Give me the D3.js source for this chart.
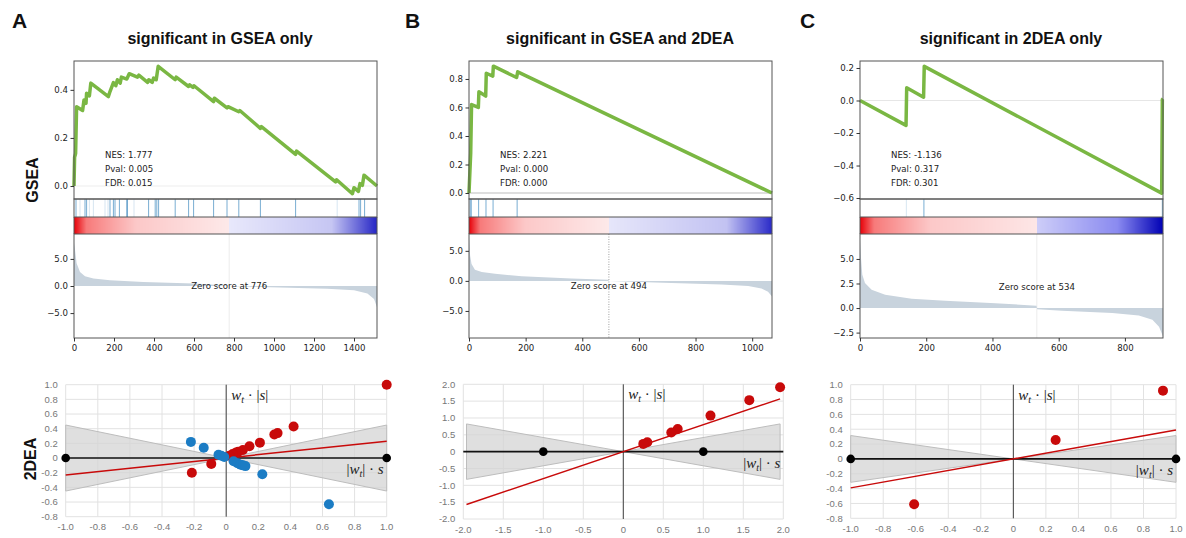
<!DOCTYPE html>
<html>
<head>
<meta charset="utf-8">
<script src="https://cdn.jsdelivr.net/npm/d3@7"></script>
<style>
  body { margin: 0; background: #fff; }
  svg { display: block; }
</style>
</head>
<body>
<script>
// ---- panel headers ----
const letters = ["A", "B", "C"];
const titles = ["significant in GSEA only", "significant in GSEA and 2DEA", "significant in 2DEA only"];
const stats = [
  ["NES: 1.777", "Pval: 0.005", "FDR: 0.015"],
  ["NES: 2.221", "Pval: 0.000", "FDR: 0.000"],
  ["NES: -1.136", "Pval: 0.317", "FDR: 0.301"]
];
const geneCounts = [1515, 1070, 915];
const zeroScores = [776, 494, 534];

// ---- GSEA axes ----
const esDomains = [[-0.054, 0.52], [-0.042, 0.926], [-0.606, 0.243]];
const esTicks = [[0, 0.2, 0.4], [0, 0.2, 0.4, 0.6, 0.8], [-0.6, -0.4, -0.2, 0, 0.2]];
const rankDomains = [[-9.6, 9.6], [-9.5, 7.8], [-3.05, 7.54]];
const rankTicks = [[-5, 0, 5], [-5, 0, 5], [-2.5, 0, 2.5, 5]];
const geneTicks = [
  [0, 200, 400, 600, 800, 1000, 1200, 1400],
  [0, 200, 400, 600, 800, 1000],
  [0, 200, 400, 600, 800]
];
const zeroLabelY = [0, -0.8, 2.1];

// ---- running enrichment score (rank, ES) ----
const esRankA = [0, 3, 8, 13, 43, 50, 60, 63, 77, 84, 172, 180, 197, 209, 217, 231, 237, 264, 276, 317, 324, 368, 374, 391, 398, 411, 421,
  506, 511, 573, 578, 595, 600, 698, 702, 765, 770, 824, 829, 932, 937, 1108, 1113, 1308, 1313, 1392, 1400, 1422, 1430, 1442, 1450, 1515];
const esValA = [0, 0.12, 0.135, 0.33, 0.314, 0.358, 0.344, 0.386, 0.375, 0.428, 0.372, 0.393, 0.43, 0.417, 0.442, 0.428, 0.453, 0.445, 0.467, 0.453, 0.461, 0.431, 0.442, 0.431, 0.449, 0.442, 0.498,
  0.442, 0.453, 0.414, 0.421, 0.41, 0.417, 0.351, 0.365, 0.325, 0.33, 0.309, 0.314, 0.24, 0.247, 0.132, 0.145, 0.017, 0.026, -0.032, -0.007, -0.022, 0.01, 0.003, 0.045, 0];
const esRankB = [0, 6, 9, 33, 35, 59, 61, 84, 86, 168, 172, 1070];
const esValB = [0, 0.28, 0.62, 0.60, 0.71, 0.68, 0.84, 0.82, 0.89, 0.81, 0.85, 0.0];
const esRankC = [0, 139, 141, 192, 194, 911, 913, 915];
const esValC = [0, -0.153, 0.078, 0.02, 0.21, -0.57, 0.006, 0.01];

// ---- hit positions (rank) ----
const hitsA = [10, 55, 63, 180, 197, 205, 227, 264, 267, 373, 406, 414, 423, 506, 573, 598, 698, 765, 824, 932, 1108, 1425, 1433, 1453];
const faintHitsA = [30, 77, 97, 155, 170, 300, 1316];
const hitsB = [4, 8, 34, 60, 85, 170];
const faintHitsB = [];
const hitsC = [193, 913];
const faintHitsC = [140];

// ---- ranked list metric (rank, score) ----
const rankPosA = [0, 5, 13, 30, 55, 97, 180, 347, 598, 773, 776, 932, 1266, 1400, 1467, 1500, 1515];
const rankValA = [8.0, 6.7, 4.2, 2.6, 1.8, 1.4, 1.06, 0.75, 0.44, 0.1, 0, -0.2, -0.5, -0.8, -1.4, -2.4, -3.9];
const rankPosB = [0, 4, 9, 21, 45, 92, 186, 362, 492, 494, 656, 892, 986, 1033, 1056, 1070];
const rankValB = [7.5, 4.2, 2.8, 1.85, 1.47, 1.2, 0.76, 0.38, 0.2, 0, -0.27, -0.6, -0.87, -1.25, -1.8, -2.6];
const rankPosC = [0, 3, 7, 15, 35, 76, 156, 257, 409, 520, 533, 535, 610, 762, 842, 883, 903, 915];
const rankValC = [7.0, 5.1, 3.4, 2.55, 1.86, 1.36, 0.95, 0.75, 0.5, 0.27, 0.24, -0.12, -0.27, -0.5, -0.75, -1.2, -1.9, -2.9];

// ---- 2DEA scatter ----
const deaXDomains = [[-1, 1], [-2, 2], [-1, 1]];
const deaYDomains = [[-0.8, 1], [-2, 2], [-0.8, 1]];
const deaXTicks = [
  [-1, -0.8, -0.6, -0.4, -0.2, 0, 0.2, 0.4, 0.6, 0.8, 1],
  [-2, -1.5, -1, -0.5, 0, 0.5, 1, 1.5, 2],
  [-1, -0.8, -0.6, -0.4, -0.2, 0, 0.2, 0.4, 0.6, 0.8, 1]
];
const deaYTicks = [
  [-0.8, -0.6, -0.4, -0.2, 0, 0.2, 0.4, 0.6, 0.8, 1],
  [-2, -1.5, -1, -0.5, 0, 0.5, 1, 1.5, 2],
  [-0.8, -0.6, -0.4, -0.2, 0, 0.2, 0.4, 0.6, 0.8, 1]
];
const redA = [[1.0, 1.0], [0.42, 0.43], [0.32, 0.34], [0.30, 0.32], [0.21, 0.21], [0.145, 0.16], [0.104, 0.11],
  [0.075, 0.085], [0.062, 0.077], [0.04, 0.054], [0.02, 0.03], [-0.093, -0.08], [-0.214, -0.20]];
const blueA = [[-0.22, 0.22], [-0.14, 0.14], [-0.048, 0.045], [-0.03, 0.03], [-0.012, 0.014], [0.046, -0.045],
  [0.07, -0.07], [0.09, -0.09], [0.105, -0.1], [0.12, -0.11], [0.225, -0.22], [0.64, -0.63]];
const redB = [[1.96, 1.91], [1.575, 1.53], [1.09, 1.07], [0.68, 0.67], [0.60, 0.57], [0.30, 0.28], [0.25, 0.23]];
const blueB = [];
const redC = [[0.92, 0.92], [0.26, 0.255], [-0.61, -0.61]];
const blueC = [];
const anchors = [[-1, 0], [1, 0]];
const bandExtent = [1.0, 1.96, 1.0];
const bandSlope = [0.45, 0.42, 0.315];
const fitSlope = [0.23, 0.80, 0.39];

// ---- layout ----
const W = 1186, H = 538;
const gsLeft = [74, 469, 860], gsWidth = 303;
const esTop = 61, esBottom = 199, hitBottom = 217, barBottom = 234, rankBottom = 338;
const deaXRange = [[65.7, 386.7], [463.3, 783.3], [850.7, 1176]];
const deaYRange = [[516.7, 384.7], [519, 384.3], [518.3, 384.7]];
const letterX = [12, 405, 800];
const titleX = [220, 620, 1011];
const zeroLineColor = ["#ededed", "#bdbdbd", "#e6e6e6"];
const barColors = [
  ["#e60008", "#f77a7a", "#fcc8c8", "#fde9e9", "#e8e8fb", "#c6c6f3", "#2626c6"],
  ["#e60008", "#f77a7a", "#fcc8c8", "#fde9e9", "#e6e6fa", "#c2c2f2", "#2a2ac8"],
  ["#e60008", "#f77a7a", "#fcc8c8", "#fde6e6", "#cdcdf8", "#8a8af0", "#0000b4"]
];

const svg = d3.select("body").append("svg")
  .attr("width", W).attr("height", H)
  .style("font-family", "Liberation Sans, Arial, sans-serif");

// headers
letters.forEach((l, i) => {
  svg.append("text").attr("x", letterX[i]).attr("y", 28)
    .attr("font-size", 21).attr("font-weight", "bold").attr("fill", "#111").text(l);
  svg.append("text").attr("x", titleX[i]).attr("y", 44).attr("text-anchor", "middle")
    .attr("font-size", 16).attr("font-weight", "bold").attr("fill", "#111").text(titles[i]);
});
svg.append("text").attr("transform", "translate(38,180) rotate(-90)").attr("text-anchor", "middle")
  .attr("font-size", 16).attr("font-weight", "bold").attr("fill", "#111").text("GSEA");
svg.append("text").attr("transform", "translate(36,459) rotate(-90)").attr("text-anchor", "middle")
  .attr("font-size", 16).attr("font-weight", "bold").attr("fill", "#111").text("2DEA");

function drawGsea(i, es, hits, faint, ranked) {
  const x0 = gsLeft[i], x1 = x0 + gsWidth;
  const N = geneCounts[i], z = zeroScores[i];
  const x = d3.scaleLinear().domain([0, N]).range([x0, x1]);
  const yEs = d3.scaleLinear().domain(esDomains[i]).range([esBottom, esTop]);
  const yRank = d3.scaleLinear().domain(rankDomains[i]).range([rankBottom, barBottom]);
  const g = svg.append("g").style("font-family", "DejaVu Sans, sans-serif");

  // enrichment score
  g.append("line").attr("x1", x0).attr("x2", x1).attr("y1", yEs(0)).attr("y2", yEs(0))
    .attr("stroke", zeroLineColor[i]).attr("stroke-width", 1);
  g.append("path").datum(es)
    .attr("fill", "none").attr("stroke", "#7ab743").attr("stroke-width", 3.5)
    .attr("stroke-linejoin", "round")
    .attr("d", d3.line().x(d => x(d[0])).y(d => yEs(d[1])));
  stats[i].forEach((s, k) => {
    g.append("text").attr("x", x0 + 31).attr("y", 158 + k * 14)
      .attr("font-size", 8.6).attr("fill", "#222").text(s);
  });

  // hits strip
  g.selectAll(".faint").data(faint).enter().append("line")
    .attr("x1", d => x(d)).attr("x2", d => x(d)).attr("y1", esBottom).attr("y2", hitBottom)
    .attr("stroke", "#1f77b4").attr("stroke-opacity", 0.18);
  g.selectAll(".hit").data(hits).enter().append("line")
    .attr("x1", d => x(d)).attr("x2", d => x(d)).attr("y1", esBottom).attr("y2", hitBottom)
    .attr("stroke", "#1f77b4").attr("stroke-opacity", 0.6);

  // colour bar by rank
  const c = barColors[i];
  const cs = d3.scaleLinear()
    .domain([0, z * 0.08, z * 0.4, z - 0.5, z + 0.5, N * 0.85, N])
    .range(c).interpolate(d3.interpolateRgb).clamp(true);
  const cols = d3.range(0, gsWidth);
  g.selectAll(".bar").data(cols).enter().append("rect")
    .attr("x", d => x0 + d).attr("y", hitBottom).attr("width", 1.05).attr("height", barBottom - hitBottom)
    .attr("fill", d => cs(x.invert(x0 + d + 0.5)));

  // ranked metric
  if (i === 1) {
    g.append("line").attr("x1", x(z)).attr("x2", x(z)).attr("y1", barBottom).attr("y2", rankBottom)
      .attr("stroke", "#888").attr("stroke-dasharray", "1,1.5").attr("stroke-width", 0.8);
  } else {
    g.append("line").attr("x1", x(z)).attr("x2", x(z)).attr("y1", barBottom).attr("y2", rankBottom)
      .attr("stroke", "#ececec").attr("stroke-width", 1);
  }
  g.append("path").datum(ranked).attr("fill", "#c8d3dd")
    .attr("d", d3.area().x(d => x(d[0])).y0(yRank(0)).y1(d => yRank(d[1])));
  g.append("text").attr("x", x(z)).attr("y", yRank(zeroLabelY[i])).attr("dy", "0.35em")
    .attr("text-anchor", "middle").attr("font-size", 8.6).attr("fill", "#222")
    .text("Zero score at " + z);

  // frames
  [[esTop, esBottom], [esBottom, hitBottom], [barBottom, rankBottom]].forEach(([t, b]) => {
    g.append("rect").attr("x", x0).attr("y", t).attr("width", gsWidth).attr("height", b - t)
      .attr("fill", "none").attr("stroke", "#555").attr("stroke-width", 1);
  });
  g.append("line").attr("x1", x0).attr("x2", x0).attr("y1", hitBottom).attr("y2", barBottom)
    .attr("stroke", "#555");
  g.append("line").attr("x1", x1).attr("x2", x1).attr("y1", hitBottom).attr("y2", barBottom)
    .attr("stroke", "#555");

  // axes
  const fmt = d3.format(".1f");
  const ax1 = g.append("g").attr("transform", `translate(${x0},0)`)
    .call(d3.axisLeft(yEs).tickValues(esTicks[i]).tickSize(3.5).tickPadding(2.5).tickFormat(fmt));
  const ax2 = g.append("g").attr("transform", `translate(${x0},0)`)
    .call(d3.axisLeft(yRank).tickValues(rankTicks[i]).tickSize(3.5).tickPadding(2.5).tickFormat(fmt));
  const ax3 = g.append("g").attr("transform", `translate(0,${rankBottom})`)
    .call(d3.axisBottom(x).tickValues(geneTicks[i]).tickSize(3.5).tickPadding(3).tickFormat(d3.format("d")));
  [ax1, ax2, ax3].forEach(a => {
    a.select(".domain").remove();
    a.selectAll("text").attr("font-size", 8.6).attr("fill", "#222").attr("font-family", "DejaVu Sans, sans-serif");
    a.selectAll("line").attr("stroke", "#333");
  });
}

function drawDea(i, reds, blues) {
  const x = d3.scaleLinear().domain(deaXDomains[i]).range(deaXRange[i]);
  const y = d3.scaleLinear().domain(deaYDomains[i]).range(deaYRange[i]);
  const [xa, xb] = deaXDomains[i], [ya, yb] = deaYDomains[i];
  const g = svg.append("g");

  // grid
  g.selectAll(".vg").data(deaXTicks[i]).enter().append("line")
    .attr("x1", d => x(d)).attr("x2", d => x(d)).attr("y1", y(ya)).attr("y2", y(yb))
    .attr("stroke", "#e2e2e2");
  g.selectAll(".hg").data(deaYTicks[i]).enter().append("line")
    .attr("x1", x(xa)).attr("x2", x(xb)).attr("y1", d => y(d)).attr("y2", d => y(d))
    .attr("stroke", "#e2e2e2");
  const tf = d => d === 0 ? "0" : d.toFixed(1);
  g.selectAll(".yl").data(deaYTicks[i]).enter().append("text")
    .attr("x", x(xa) - 8).attr("y", d => y(d)).attr("dy", "0.35em").attr("text-anchor", "end")
    .attr("font-size", 9.5).attr("fill", "#777").text(tf);
  g.selectAll(".xl").data(deaXTicks[i]).enter().append("text")
    .attr("x", d => x(d)).attr("y", y(ya) + 13.5).attr("text-anchor", "middle")
    .attr("font-size", 9.5).attr("fill", "#777").text(tf);

  // null band
  const m = bandExtent[i], s = bandSlope[i];
  g.append("path").datum([-m, 0, m])
    .attr("fill", "#d4d4d4").attr("fill-opacity", 0.75).attr("stroke", "#bdbdbd").attr("stroke-width", 1)
    .attr("d", d3.area().x(d => x(d)).y0(d => y(-s * Math.abs(d))).y1(d => y(s * Math.abs(d))));

  // axes
  g.append("line").attr("x1", x(0)).attr("x2", x(0)).attr("y1", y(ya)).attr("y2", y(yb))
    .attr("stroke", "#444").attr("stroke-width", 1);
  g.append("line").attr("x1", x(xa)).attr("x2", x(xb)).attr("y1", y(0)).attr("y2", y(0))
    .attr("stroke", "#111").attr("stroke-width", 1.6);

  // fit line
  const f = fitSlope[i];
  g.append("path").datum([[-m, -f * m], [m, f * m]])
    .attr("fill", "none").attr("stroke", "#c80a0a").attr("stroke-width", 1.5)
    .attr("d", d3.line().x(d => x(d[0])).y(d => y(d[1])));

  // points
  g.selectAll(".an").data(anchors).enter().append("circle")
    .attr("cx", d => x(d[0])).attr("cy", d => y(d[1])).attr("r", 4.3).attr("fill", "#000");
  g.selectAll(".rd").data(reds).enter().append("circle")
    .attr("cx", d => x(d[0])).attr("cy", d => y(d[1])).attr("r", 5).attr("fill", "#c80a0a");
  g.selectAll(".bl").data(blues).enter().append("circle")
    .attr("cx", d => x(d[0])).attr("cy", d => y(d[1])).attr("r", 5).attr("fill", "#1b7cc4");

  // axis labels
  const serif = "Liberation Serif, DejaVu Serif, serif";
  const t1 = g.append("text").attr("x", x(0) + 5).attr("y", y(yb) + 15)
    .attr("font-family", serif).attr("font-size", 15).attr("fill", "#222");
  t1.append("tspan").attr("font-style", "italic").text("w");
  t1.append("tspan").attr("font-style", "italic").attr("font-size", 10).attr("dy", 3).text("t");
  t1.append("tspan").attr("dy", -3).text(" \u00b7 |");
  t1.append("tspan").attr("font-style", "italic").text("s");
  t1.append("tspan").text("|");
  const t2 = g.append("text").attr("x", x(xb) - 3).attr("y", y(0) + 16).attr("text-anchor", "end")
    .attr("font-family", serif).attr("font-size", 15).attr("fill", "#222");
  t2.append("tspan").text("|");
  t2.append("tspan").attr("font-style", "italic").text("w");
  t2.append("tspan").attr("font-style", "italic").attr("font-size", 10).attr("dy", 3).text("t");
  t2.append("tspan").attr("dy", -3).text("| \u00b7 ");
  t2.append("tspan").attr("font-style", "italic").text("s");
}

drawGsea(0, d3.zip(esRankA, esValA), hitsA, faintHitsA, d3.zip(rankPosA, rankValA));
drawGsea(1, d3.zip(esRankB, esValB), hitsB, faintHitsB, d3.zip(rankPosB, rankValB));
drawGsea(2, d3.zip(esRankC, esValC), hitsC, faintHitsC, d3.zip(rankPosC, rankValC));
drawDea(0, redA, blueA);
drawDea(1, redB, blueB);
drawDea(2, redC, blueC);
</script>
</body>
</html>
